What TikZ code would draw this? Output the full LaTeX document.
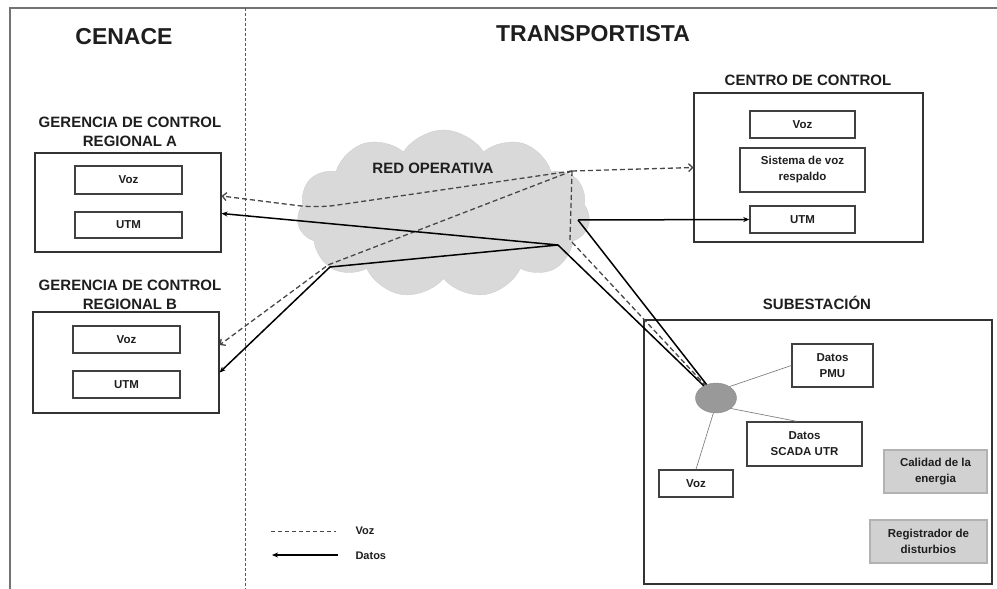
\documentclass[tikz,border=0pt]{standalone}
\usepackage{fontspec}
\setmainfont{Liberation Sans}
\usetikzlibrary{shapes.symbols,shapes.geometric,arrows.meta}
\definecolor{cloudfill}{HTML}{D9D9D9}
\definecolor{cloudline}{HTML}{CFCFCF}
\definecolor{txt}{HTML}{1E1E1E}
\begin{document}
\begin{tikzpicture}[x=1pt,y=-1pt,
  ttl/.style={font=\fontsize{23}{27}\selectfont\bfseries, text=txt},
  hdg/.style={font=\fontsize{15}{19}\selectfont\bfseries, align=center, text=txt},
  grp/.style={draw=black!80, line width=1.1pt, inner sep=0pt},
  itembox/.style={draw=black!75, line width=1.4pt, inner sep=0pt, align=center, font=\fontsize{11.5}{16}\selectfont\bfseries, text=txt},
  grayitem/.style={itembox, fill=black!18, draw=black!30},
  voicelink/.style={draw=black!72, line width=1.3pt, dash pattern=on 5pt off 3pt},
  datalink/.style={draw=black, line width=1.5pt},
  thinlink/.style={draw=black!50, line width=0.7pt},
  openhead/.style={-{Straight Barb[length=4pt,width=8pt]}},
  fullhead/.style={-{Stealth[length=6pt,width=5pt]}},
  legtxt/.style={font=\fontsize{11}{13}\selectfont\bfseries, text=txt, anchor=west}
]
\useasboundingbox (0,0) rectangle (997,589);
% outer frame and divider
\draw[draw=black!55, line width=1.4pt] (10,589) -- (10,8) -- (997,8);
\draw[draw=black!65, line width=1pt, dash pattern=on 3pt off 2pt] (245,8) -- (245,589);

% titles
\node[ttl] (cenace) at (124,37) {CENACE};
\node[ttl] (transp) at (593,34) {TRANSPORTISTA};

% cloud
\node[cloud, cloud puffs=11, cloud puff arc=115, aspect=1.75, minimum width=293pt, minimum height=168pt, inner sep=0pt, fill=cloudfill, draw=cloudline] (red) at (443.5,214) {};
\node[hdg] (redlbl) at (433,168) {RED OPERATIVA};

% Gerencia A
\node[hdg] (hA) at (130,131.5) {GERENCIA DE CONTROL\\REGIONAL A};
\node[grp, minimum width=186pt, minimum height=99pt] (boxA) at (128,202.5) {};
\node[itembox, minimum width=107pt, minimum height=28pt] (vozA) at (128.5,180) {Voz};
\node[itembox, minimum width=107pt, minimum height=26pt] (utmA) at (128.5,225) {UTM};

% Gerencia B
\node[hdg] (hB) at (130,294.5) {GERENCIA DE CONTROL\\REGIONAL B};
\node[grp, minimum width=186pt, minimum height=101pt] (boxB) at (126,362.5) {};
\node[itembox, minimum width=107pt, minimum height=27pt] (vozB) at (126.5,339.5) {Voz};
\node[itembox, minimum width=107pt, minimum height=27pt] (utmB) at (126.5,384.5) {UTM};

% Centro de control
\node[hdg] (hC) at (808,80) {CENTRO DE CONTROL};
\node[grp, minimum width=229pt, minimum height=149pt] (centro) at (808.5,167.5) {};
\node[itembox, minimum width=105pt, minimum height=27pt] (vozC) at (802.5,124.5) {Voz};
\node[itembox, minimum width=125pt, minimum height=44pt] (sisC) at (802.5,170) {Sistema de voz\\respaldo};
\node[itembox, minimum width=105pt, minimum height=27pt] (utmC) at (802.5,219.5) {UTM};

% Subestacion
\node[hdg] (hS) at (817,303) {SUBESTACIÓN};
\node[grp, minimum width=348pt, minimum height=264pt] (sub) at (818,452) {};
\node[itembox, minimum width=81pt, minimum height=43pt] (pmu) at (832.5,365.5) {Datos\\PMU};
\node[itembox, minimum width=115pt, minimum height=44pt] (scada) at (804.5,444) {Datos\\SCADA UTR};
\node[itembox, minimum width=74pt, minimum height=27pt] (vozS) at (696,483.5) {Voz};
\node[grayitem, minimum width=103pt, minimum height=43pt] (cal) at (935.5,471.5) {Calidad de la\\energia};
\node[grayitem, minimum width=117pt, minimum height=43pt] (reg) at (928.5,541.5) {Registrador de\\disturbios};
\node[ellipse, minimum width=41pt, minimum height=30pt, inner sep=0pt, fill=black!40, draw=black!45] (hub) at (716,398) {};

% hub points inside cloud
\coordinate (P) at (572,171);
\coordinate (Q) at (558,245);
\coordinate (R) at (578,220);
\coordinate (S) at (570,240);
\coordinate (bA) at (317,208);
\coordinate (bBv) at (328,265);
\coordinate (bBd) at (330,267);

% voice (dashed) links
\draw[voicelink, openhead] (P) -- (centro.west);
\draw[voicelink, openhead, rounded corners=18pt] (P) -- (bA) -- ([yshift=6.5pt]boxA.east);
\draw[voicelink, openhead] (P) -- (bBv) -- ([yshift=17.5pt]boxB.east);
\draw[voicelink] (P) -- (S) -- (hub.130);

% data (solid) links
\draw[datalink, fullhead] (Q) -- ([yshift=-11pt]boxA.east);
\draw[datalink, fullhead] (Q) -- (bBd) -- ([yshift=-10pt]boxB.east);
\draw[datalink, fullhead] (R) -- (utmC.west);
\draw[datalink] (Q) -- (hub.135);
\draw[datalink] (R) -- (hub.125);

% substation internal links
\draw[thinlink] (hub.40) -- (pmu.west);
\draw[thinlink] (hub.-35) -- ([xshift=-8pt]scada.north);
\draw[thinlink] (hub.-100) -- (vozS.north);

% legend
\coordinate (lv1) at (271,531);
\coordinate (lv2) at (336,531);
\coordinate (ld1) at (338,555);
\coordinate (ld2) at (272,555);
\draw[voicelink, line width=1pt, dash pattern=on 4pt off 3pt] (lv1) -- (lv2);
\draw[datalink, fullhead] (ld1) -- (ld2);
\node[legtxt] (lvoz) at (352,531) {Voz};
\node[legtxt] (ldat) at (352,556) {Datos};
\end{tikzpicture}
\end{document}
